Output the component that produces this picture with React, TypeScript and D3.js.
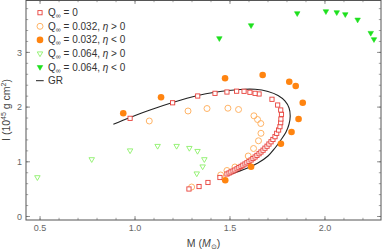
import * as React from "react";
import * as d3 from "d3";

// M (solar masses) and I (10^45 g cm^2)
const q0M = [1.284, 1.337, 1.384, 1.447, 1.484, 1.495, 1.505, 1.516, 1.526, 1.537, 1.547, 1.558, 1.568, 1.579, 1.589, 1.6, 1.611, 1.621, 1.632, 1.642, 1.653, 1.663, 1.674, 1.684, 1.695, 1.705, 1.716, 1.726, 1.737, 1.746, 1.756, 1.763, 1.767, 1.768, 1.771, 1.767, 1.751, 1.721, 1.653, 1.632, 1.605, 1.574, 1.535, 1.484, 1.421, 1.33, 1.198, 0.974];
const q0I = [0.503, 0.548, 0.622, 0.713, 0.777, 0.795, 0.814, 0.832, 0.85, 0.872, 0.894, 0.916, 0.938, 0.96, 0.982, 1.007, 1.033, 1.06, 1.088, 1.117, 1.148, 1.179, 1.212, 1.249, 1.285, 1.325, 1.366, 1.408, 1.459, 1.521, 1.581, 1.642, 1.715, 1.782, 1.868, 1.947, 2.038, 2.143, 2.24, 2.252, 2.271, 2.289, 2.291, 2.276, 2.252, 2.203, 2.079, 1.795];

const q032PosM = [1.075, 1.279, 1.379, 1.489, 1.545, 1.626, 1.645, 1.662, 1.663, 1.65, 1.624, 1.596, 1.526, 1.484, 1.451, 1.298];
const q032PosI = [1.746, 1.929, 1.974, 1.98, 1.956, 1.841, 1.773, 1.7, 1.521, 1.384, 1.243, 1.106, 0.905, 0.841, 0.759, 0.539];

const q032NegM = [0.938, 1.137, 1.474, 1.672, 1.812, 1.846, 1.883, 1.861, 1.824, 1.768, 1.611, 1.475];
const q032NegI = [1.887, 2.179, 2.527, 2.587, 2.464, 2.386, 2.08, 1.782, 1.545, 1.331, 0.91, 0.662];

const q064PosM = [0.486, 0.772, 0.974, 1.119, 1.219, 1.286, 1.329, 1.365, 1.356, 1.325];
const q064PosI = [0.717, 1.046, 1.207, 1.289, 1.289, 1.252, 1.197, 1.046, 0.914, 0.786];

const q064NegM = [1.444, 1.611, 1.854, 2.005, 2.062, 2.107, 2.172, 2.241, 2.258];
const q064NegI = [3.258, 3.495, 3.715, 3.751, 3.733, 3.697, 3.598, 3.355, 3.24];

const grM = [0.886, 0.974, 1.079, 1.198, 1.33, 1.421, 1.553, 1.632, 1.7, 1.753, 1.789, 1.811, 1.817, 1.811, 1.795, 1.768, 1.737, 1.7, 1.647, 1.589, 1.537, 1.484];
const grI = [1.686, 1.81, 1.947, 2.084, 2.212, 2.271, 2.322, 2.325, 2.285, 2.212, 2.112, 1.984, 1.837, 1.691, 1.545, 1.399, 1.252, 1.106, 0.978, 0.881, 0.814, 0.75];

const xTicks = [0.5, 1.0, 1.5, 2.0];
const xTickLabels = ["0.5", "1.0", "1.5", "2.0"];
const yTicks = [0, 1, 2, 3];
const yTickLabels = ["0", "1", "2", "3"];

const RED = "#e8403a";
const ORANGE_LIGHT = "#ffb466";
const ORANGE = "#ff8410";
const GREEN_LIGHT = "#8cf06a";
const GREEN = "#1ee01e";

const W = 382, H = 251;
const left = 26, right = 381, top = 0, bottom = 220;
const FONT = "'Liberation Sans', Arial, sans-serif";

const pairs = (a: number[], b: number[]) => a.map((v, i) => [v, b[i]] as [number, number]);

export default function App() {
  const x = d3.scaleLinear().domain([0.426, 2.295]).range([left, right]);
  const y = d3.scaleLinear().domain([-0.064, 3.958]).range([bottom, top]);

  const minorX = d3.range(0.5, 2.3, 0.1);
  const minorY = d3.range(0, 3.95, 0.2);

  const line = d3.line<[number, number]>()
    .x(d => x(d[0]))
    .y(d => y(d[1]))
    .curve(d3.curveCatmullRom);

  const tri = d3.symbol().type(d3.symbolTriangle).size(13)()!;

  const square = (cx: number, cy: number, key: any) => (
    <rect key={key} x={cx - 2.1} y={cy - 2.1} width={4.2} height={4.2} fill="white" stroke={RED} strokeWidth={0.9} />
  );
  const openCircle = (cx: number, cy: number, key: any) => (
    <circle key={key} cx={cx} cy={cy} r={3} fill="none" stroke={ORANGE_LIGHT} strokeWidth={1} />
  );
  const fullCircle = (cx: number, cy: number, key: any) => (
    <circle key={key} cx={cx} cy={cy} r={3.3} fill={ORANGE} />
  );
  const openTri = (cx: number, cy: number, key: any) => (
    <path key={key} d={tri} transform={`translate(${cx},${cy}) rotate(180)`} fill="white" stroke={GREEN_LIGHT} strokeWidth={0.9} />
  );
  const fullTri = (cx: number, cy: number, key: any) => (
    <path key={key} d={tri} transform={`translate(${cx},${cy}) rotate(180)`} fill={GREEN} stroke={GREEN} strokeWidth={0.6} />
  );

  const legendRows = [
    { mark: square, label: <>Q<tspan fontSize="7" dy="2">∞</tspan><tspan dy="-2"> = 0</tspan></> },
    { mark: openCircle, label: <>Q<tspan fontSize="7" dy="2">∞</tspan><tspan dy="-2"> = 0.032, </tspan><tspan fontStyle="italic">η</tspan> &gt; 0</> },
    { mark: fullCircle, label: <>Q<tspan fontSize="7" dy="2">∞</tspan><tspan dy="-2"> = 0.032, </tspan><tspan fontStyle="italic">η</tspan> &lt; 0</> },
    { mark: openTri, label: <>Q<tspan fontSize="7" dy="2">∞</tspan><tspan dy="-2"> = 0.064, </tspan><tspan fontStyle="italic">η</tspan> &gt; 0</> },
    { mark: fullTri, label: <>Q<tspan fontSize="7" dy="2">∞</tspan><tspan dy="-2"> = 0.064, </tspan><tspan fontStyle="italic">η</tspan> &lt; 0</> },
  ];

  return (
    <svg width={W} height={H} style={{ position: "absolute", left: 0, top: 0, background: "white" }} fontFamily={FONT}>
      {/* frame ticks */}
      {minorX.map((t, i) => (
        <g key={"mx" + i} stroke="#666" strokeWidth={0.6}>
          <line x1={x(t)} x2={x(t)} y1={bottom} y2={bottom - 2.2} />
          <line x1={x(t)} x2={x(t)} y1={top} y2={top + 2.2} />
        </g>
      ))}
      {minorY.map((t, i) => (
        <g key={"my" + i} stroke="#666" strokeWidth={0.6}>
          <line x1={left} x2={left + 2.2} y1={y(t)} y2={y(t)} />
          <line x1={right} x2={right - 2.2} y1={y(t)} y2={y(t)} />
        </g>
      ))}
      {xTicks.map((t, i) => (
        <g key={"x" + i}>
          <line x1={x(t)} x2={x(t)} y1={bottom} y2={bottom - 4} stroke="#666" strokeWidth={0.7} />
          <line x1={x(t)} x2={x(t)} y1={top} y2={top + 4} stroke="#666" strokeWidth={0.7} />
          <text x={x(t)} y={231} textAnchor="middle" fontSize={9} fill="#666">{xTickLabels[i]}</text>
        </g>
      ))}
      {yTicks.map((t, i) => (
        <g key={"y" + i}>
          <line x1={left} x2={left + 4} y1={y(t)} y2={y(t)} stroke="#666" strokeWidth={0.7} />
          <line x1={right} x2={right - 4} y1={y(t)} y2={y(t)} stroke="#666" strokeWidth={0.7} />
          <text x={22} y={y(t) + 3.2} textAnchor="end" fontSize={9} fill="#666">{yTickLabels[i]}</text>
        </g>
      ))}
      <rect x={left} y={top + 0.5} width={right - left} height={bottom - top - 0.5} fill="none" stroke="#555" strokeWidth={1} />

      {/* series */}
      <path d={line(pairs(grM, grI))!} fill="none" stroke="#222" strokeWidth={1.1} />
      {pairs(q064PosM, q064PosI).map((d, i) => openTri(x(d[0]), y(d[1]), "a" + i))}
      {pairs(q032PosM, q032PosI).map((d, i) => openCircle(x(d[0]), y(d[1]), "b" + i))}
      {pairs(q0M, q0I).map((d, i) => square(x(d[0]), y(d[1]), "c" + i))}
      {pairs(q032NegM, q032NegI).map((d, i) => fullCircle(x(d[0]), y(d[1]), "d" + i))}
      {pairs(q064NegM, q064NegI).map((d, i) => fullTri(x(d[0]), y(d[1]), "e" + i))}

      {/* legend */}
      {legendRows.map((r, i) => (
        <g key={"l" + i}>
          {r.mark(40, 12.7 + i * 13.6, "m")}
          <text x={48} y={12.7 + i * 13.6 + 3.4} fontSize={10} fill="#333">{r.label}</text>
        </g>
      ))}
      <line x1={36} x2={43.7} y1={12.7 + 5 * 13.6} y2={12.7 + 5 * 13.6} stroke="#222" strokeWidth={1} />
      <text x={48} y={12.7 + 5 * 13.6 + 3.4} fontSize={10} fill="#333">GR</text>

      {/* axis titles */}
      <text x={(left + right) / 2} y={246.5} textAnchor="middle" fontSize={10.5} fill="#444">
        M (<tspan fontStyle="italic">M</tspan><tspan fontSize="7" dy="2.5">⊙</tspan><tspan dy="-2.5">)</tspan>
      </text>
      <text transform={`translate(10,${(top + bottom) / 2}) rotate(-90)`} textAnchor="middle" fontSize={10.5} fill="#444">
        I (10<tspan fontSize="7" dy="-4">45</tspan><tspan dy="4"> g cm</tspan><tspan fontSize="7" dy="-4">2</tspan><tspan dy="4">)</tspan>
      </text>
    </svg>
  );
}
